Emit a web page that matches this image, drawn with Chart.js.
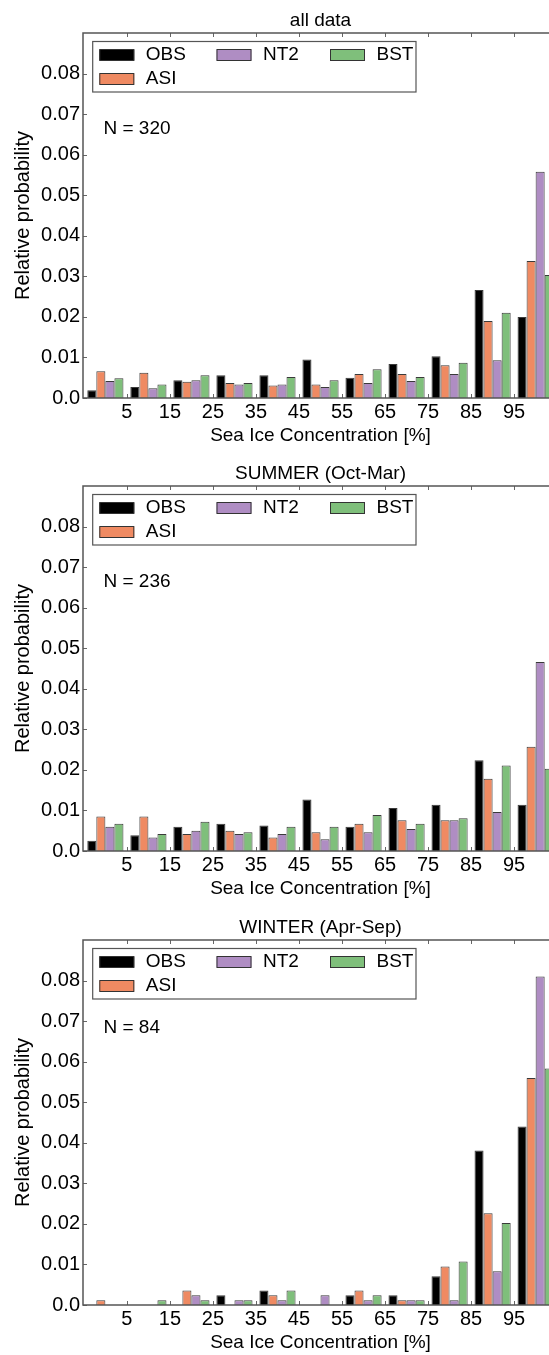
<!DOCTYPE html>
<html><head><meta charset="utf-8">
<script src="https://cdn.jsdelivr.net/npm/chart.js@4.4.1/dist/chart.umd.min.js"></script>
<style>
html,body{margin:0;padding:0;background:#fff;overflow:hidden;width:549px;height:1355px;position:relative;}
canvas{position:absolute;left:0;}
</style></head><body>
<canvas id="c1" width="560" height="453" style="top:0px;width:560px;height:453px"></canvas>
<canvas id="c2" width="560" height="453" style="top:453px;width:560px;height:453px"></canvas>
<canvas id="c3" width="560" height="453" style="top:907px;width:560px;height:453px"></canvas>
<script>
// ---- data ----
const bins = [0, 10, 20, 30, 40, 50, 60, 70, 80, 90, 100];
const xTicks = [5, 15, 25, 35, 45, 55, 65, 75, 85, 95];
const yTicks = [0, 0.01, 0.02, 0.03, 0.04, 0.05, 0.06, 0.07, 0.08];
const seriesNames = ['OBS', 'ASI', 'NT2', 'BST'];
const seriesColors = ['#000000', '#ef8a62', '#af8dc3', '#7fbf7b'];
const panelTitles = ['all data', 'SUMMER (Oct-Mar)', 'WINTER (Apr-Sep)'];
const panelN = ['N = 320', 'N = 236', 'N = 84'];
const xTitle = 'Sea Ice Concentration [%]';
const yTitle = 'Relative probability';

// all data
const allOBS = [0.0019, 0.0027, 0.0044, 0.0056, 0.0056, 0.0095, 0.0050, 0.0084, 0.0103, 0.0266, 0.0200];
const allASI = [0.0066, 0.0062, 0.0040, 0.0037, 0.0031, 0.0033, 0.0059, 0.0059, 0.0081, 0.0190, 0.0338];
const allNT2 = [0.0042, 0.0024, 0.0044, 0.0033, 0.0033, 0.0027, 0.0037, 0.0042, 0.0059, 0.0093, 0.0558];
const allBST = [0.0049, 0.0033, 0.0056, 0.0037, 0.0052, 0.0044, 0.0071, 0.0052, 0.0087, 0.0210, 0.0303];
// summer
const sumOBS = [0.0025, 0.0039, 0.0060, 0.0067, 0.0063, 0.0127, 0.0060, 0.0106, 0.0114, 0.0224, 0.0114];
const sumASI = [0.0085, 0.0085, 0.0042, 0.0050, 0.0033, 0.0046, 0.0067, 0.0076, 0.0076, 0.0178, 0.0257];
const sumNT2 = [0.0060, 0.0033, 0.0050, 0.0042, 0.0042, 0.0029, 0.0046, 0.0054, 0.0076, 0.0096, 0.0466];
const sumBST = [0.0067, 0.0042, 0.0072, 0.0046, 0.0060, 0.0060, 0.0089, 0.0067, 0.0081, 0.0211, 0.0203];
// winter
const winOBS = [0, 0, 0, 0.0024, 0.0036, 0, 0.0024, 0.0024, 0.0071, 0.0381, 0.0440];
const winASI = [0.0012, 0, 0.0036, 0, 0.0024, 0, 0.0036, 0.0012, 0.0095, 0.0226, 0.0560];
const winNT2 = [0, 0, 0.0024, 0.0012, 0.0012, 0.0024, 0.0012, 0.0012, 0.0012, 0.0083, 0.0810];
const winBST = [0, 0.0012, 0.0012, 0.0012, 0.0036, 0, 0.0024, 0.0012, 0.0107, 0.0202, 0.0583];

const panelSeries = [
  [allOBS, allASI, allNT2, allBST],
  [sumOBS, sumASI, sumNT2, sumBST],
  [winOBS, winASI, winNT2, winBST]
];

// ---- styling ----
const FONT = '"Liberation Sans", Arial, Helvetica, sans-serif';
const FS = 19;
const FT = 20;
Chart.defaults.font.family = FONT;
Chart.defaults.font.size = FS;
Chart.defaults.color = '#000';

const nYOffsets = [96, 96, 87.5];
const legendSlots = [[0, 0], [0, 1], [1, 0], [2, 0]];
const legendColX = [16.3, 133.5, 247];
const legendRowY = [22, 46];

const decor = {
  id: 'decor',
  afterDraw(chart, args, o) {
    const {ctx, chartArea: a, scales: {x, y}} = chart;
    ctx.save();
    // inward ticks
    ctx.strokeStyle = '#666';
    ctx.lineWidth = 1;
    ctx.beginPath();
    xTicks.forEach(v => {
      const px = Math.round(x.getPixelForValue(v)) + 0.5;
      ctx.moveTo(px, a.bottom); ctx.lineTo(px, a.bottom - 4);
      ctx.moveTo(px, a.top); ctx.lineTo(px, a.top + 4);
    });
    yTicks.forEach(v => {
      const py = Math.round(y.getPixelForValue(v)) + 0.5;
      ctx.moveTo(a.left, py); ctx.lineTo(a.left + 4, py);
    });
    ctx.stroke();
    // axes frame
    ctx.strokeStyle = '#555';
    ctx.lineWidth = 1.5;
    ctx.strokeRect(a.left, a.top, a.right - a.left, a.bottom - a.top);

    // title
    ctx.fillStyle = '#000';
    ctx.font = FS + 'px ' + FONT;
    ctx.textAlign = 'center';
    ctx.textBaseline = 'middle';
    ctx.fillText(o.title, (a.left + a.right) / 2, 21);

    // N text
    ctx.textAlign = 'left';
    ctx.fillText(o.nText, a.left + 20.5, a.top + o.nY);

    // legend frame
    ctx.fillStyle = '#fff';
    const lx = a.left + 9.7, ly = a.top + 8.5, lw = 323.3, lh = 50.5;
    ctx.fillRect(lx, ly, lw, lh);
    ctx.strokeStyle = '#555';
    ctx.lineWidth = 1.2;
    ctx.strokeRect(lx, ly, lw, lh);
    // legend items
    chart.data.datasets.forEach((ds, i) => {
      const [c, r] = legendSlots[i];
      const sx = a.left + legendColX[c];
      const cy = a.top + legendRowY[r];
      ctx.fillStyle = ds.backgroundColor;
      ctx.fillRect(sx, cy - 5.5, 35, 11);
      ctx.strokeStyle = '#333';
      ctx.lineWidth = 1;
      ctx.strokeRect(sx + 0.5, cy - 5.5, 34, 11);
      ctx.fillStyle = '#000';
      ctx.fillText(ds.label, sx + 46.5, cy);
    });
    ctx.restore();
  }
};

function makeChart(id, p) {
  const datasets = seriesNames.map((name, i) => ({
    label: name,
    data: bins.map((b, k) => ({x: b, y: panelSeries[p][i][k]})),
    backgroundColor: seriesColors[i],
    borderColor: '#3a3a3a',
    borderWidth: 1,
    borderSkipped: 'start',
    categoryPercentage: 0.84,
    barPercentage: 1.0
  }));
  return new Chart(document.getElementById(id), {
    type: 'bar',
    data: {datasets},
    plugins: [decor],
    options: {
      responsive: false,
      animation: false,
      devicePixelRatio: 1,
      layout: {padding: {top: 33, left: 0, right: 2, bottom: 0}},
      plugins: {
        legend: {display: false},
        tooltip: {enabled: false},
        title: {display: false},
        decor: {title: panelTitles[p], nText: panelN[p], nY: nYOffsets[p]}
      },
      scales: {
        x: {
          type: 'linear',
          offset: false,
          min: -5.2,
          max: 105.2,
          grid: {display: false, drawTicks: false, offset: false},
          border: {display: false},
          afterBuildTicks: s => { s.ticks = xTicks.map(v => ({value: v})); },
          afterFit: s => { s.height = 55; },
          ticks: {padding: 2, maxRotation: 0, autoSkip: false, font: {size: FT}, color: '#000',
                  callback: v => String(v)},
          title: {display: true, text: xTitle, font: {size: FS}, color: '#000', padding: {top: 0, bottom: 6}}
        },
        y: {
          type: 'linear',
          min: 0,
          max: 0.09,
          grid: {display: false, drawTicks: false},
          border: {display: false},
          afterBuildTicks: s => { s.ticks = yTicks.map(v => ({value: v})); },
          afterFit: s => { s.width = 83; },
          ticks: {padding: 3, font: {size: FT}, color: '#000',
                  callback: v => (v === 0 ? '0.0' : Number(v).toFixed(2))},
          title: {display: true, text: yTitle, font: {size: FT}, color: '#000', padding: {top: 11.4, bottom: 0}}
        }
      }
    }
  });
}

makeChart('c1', 0);
makeChart('c2', 1);
makeChart('c3', 2);
</script>
</body></html>
